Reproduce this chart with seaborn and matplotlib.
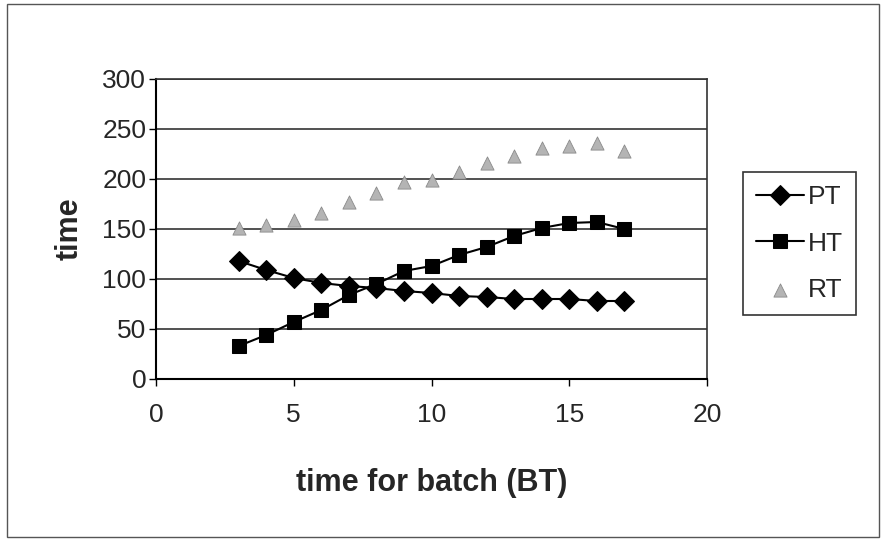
import matplotlib
matplotlib.use("Agg")
import matplotlib.pyplot as plt
import seaborn as sns
import pandas as pd
from matplotlib.patches import Rectangle

sns.set_theme(style="white")
plt.rcParams['font.family'] = ['Liberation Sans', 'DejaVu Sans']

batch = [3, 4, 5, 6, 7, 8, 9, 10, 11, 12, 13, 14, 15, 16, 17]
pt = [118, 109, 101, 96, 93, 91, 88, 86, 83, 82, 80, 80, 80, 78, 78]
ht = [33, 44, 57, 69, 84, 95, 108, 113, 124, 132, 143, 151, 156, 157, 150]
rt = [151, 154, 159, 166, 177, 186, 197, 199, 207, 216, 223, 231, 233, 236, 228]
x_ticks = [0, 5, 10, 15, 20]
y_ticks = [0, 50, 100, 150, 200, 250, 300]

df = pd.DataFrame({"BT": batch, "PT": pt, "HT": ht, "RT": rt})

fig = plt.figure(figsize=(8.81, 5.42), dpi=100)
ax = fig.add_axes([156/881, 1-379/542, (707-156)/881, (379-79)/542])

sns.lineplot(data=df, x="BT", y="PT", ax=ax, color="black", lw=1.5,
             marker="D", markersize=10, markeredgecolor="black", label="PT")
sns.lineplot(data=df, x="BT", y="HT", ax=ax, color="black", lw=1.5,
             marker="s", markersize=10, markeredgecolor="black", label="HT")
sns.scatterplot(data=df, x="BT", y="RT", ax=ax, color="#b4b4b4", marker="^",
                s=90, edgecolor="#8a8a8a", linewidth=0.6, label="RT", zorder=3)

ax.set_xlim(0, 20)
ax.set_ylim(0, 300)
ax.set_xticks(x_ticks)
ax.set_yticks(y_ticks)
ax.set_xticklabels([str(v) for v in x_ticks], fontsize=19)
ax.set_yticklabels([str(v) for v in y_ticks], fontsize=19)
ax.tick_params(axis="both", which="both", direction="out", length=5, width=1,
               color="black", bottom=True, left=True)
ax.tick_params(axis="x", pad=12)
ax.tick_params(axis="y", pad=2)

ax.yaxis.grid(True, color="#222222", lw=1.1)
ax.xaxis.grid(False)
ax.set_axisbelow(True)
for s in ["left", "bottom"]:
    ax.spines[s].set_color("black")
    ax.spines[s].set_linewidth(1.5)
for s in ["top", "right"]:
    ax.spines[s].set_color("#333333")
    ax.spines[s].set_linewidth(1.2)

ax.set_xlabel("time for batch (BT)", fontsize=22, fontweight="bold", labelpad=30)
ax.set_ylabel("time", fontsize=22, fontweight="bold", labelpad=13)

ax.get_legend().remove()
handles, labels = ax.get_legend_handles_labels()
leg = fig.legend(handles, labels, loc="upper left",
                 bbox_to_anchor=(743/881, 1-172/542), borderaxespad=0,
                 frameon=True, fancybox=False, edgecolor="black", fontsize=19,
                 handlelength=1.8, labelspacing=0.85, borderpad=0.5,
                 handletextpad=0.15)
leg.get_frame().set_linewidth(1.2)

fig.patches.append(Rectangle((7/881, 1-537/542), (879-7)/881, (537-4)/542,
                             transform=fig.transFigure, fill=False,
                             edgecolor="#555555", lw=1.0))

fig.savefig("out.png", dpi=100, facecolor="white")
